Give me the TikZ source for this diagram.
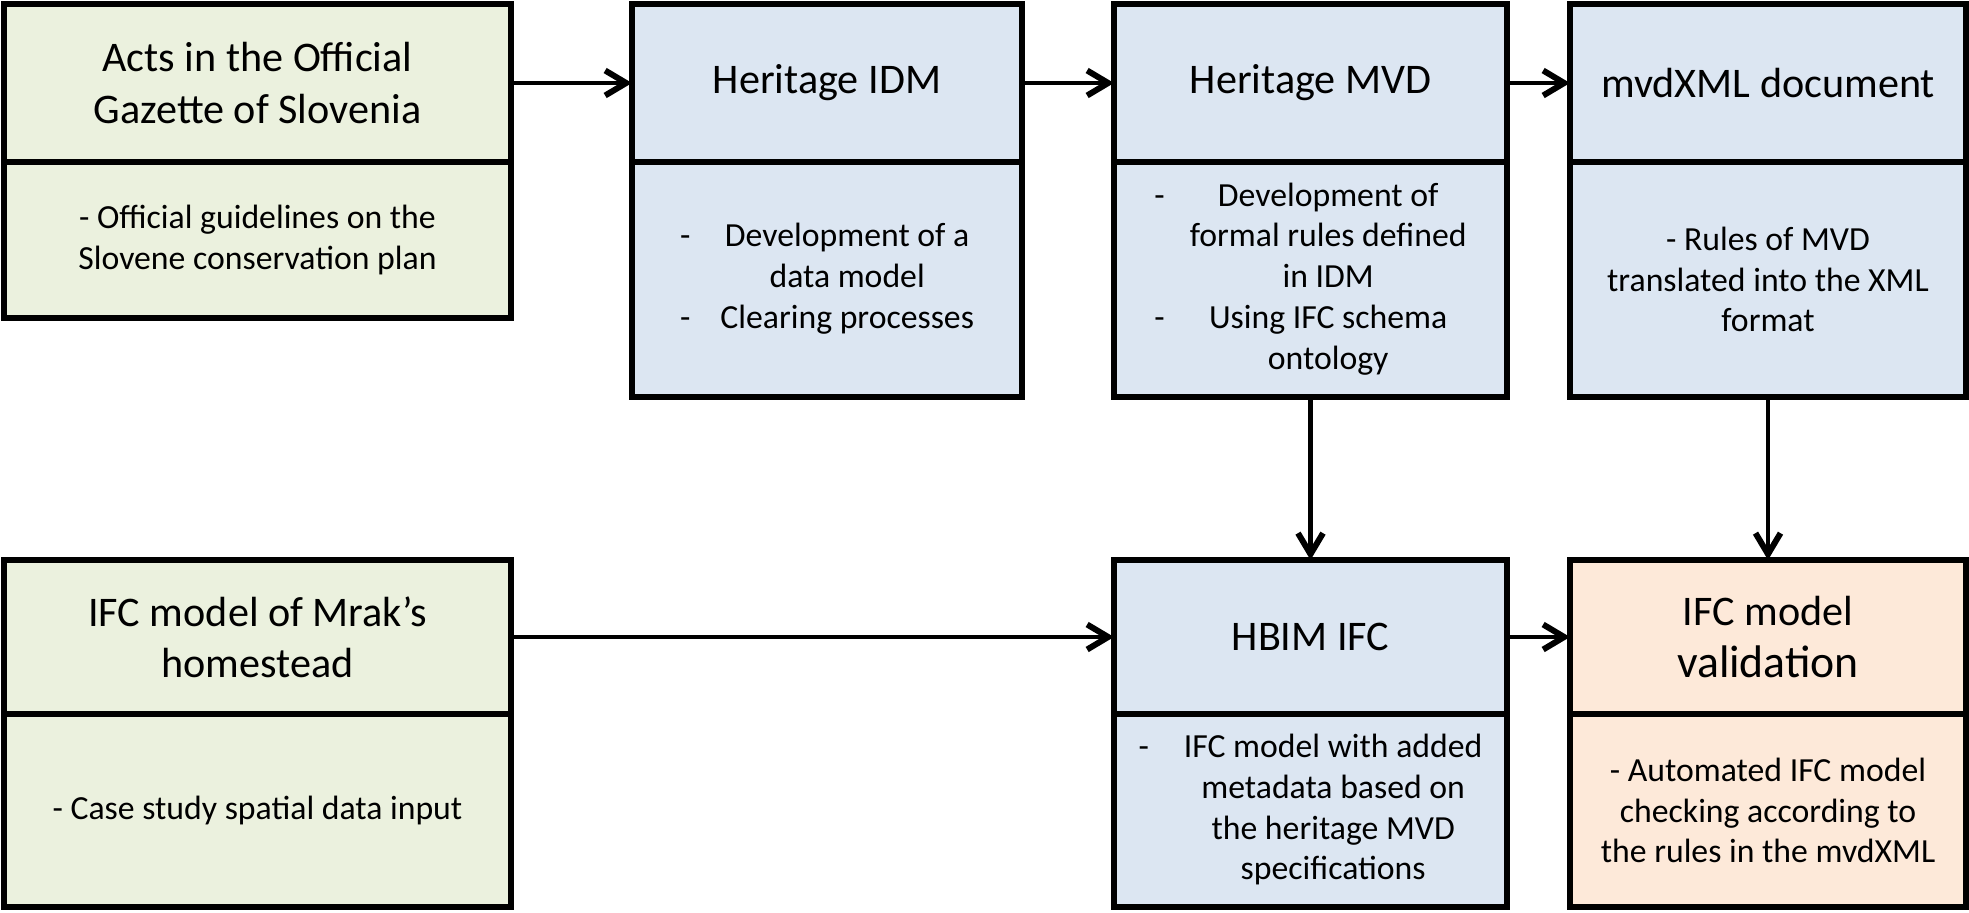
\documentclass[tikz,border=0pt]{standalone}
\usepackage{fontspec}
\setmainfont{Carlito}
\usetikzlibrary{positioning,arrows.meta}
\definecolor{boxgreen}{RGB}{235,241,222}
\definecolor{boxblue}{RGB}{220,230,242}
\definecolor{boxorange}{RGB}{253,233,217}

\begin{document}
\begin{tikzpicture}[
	boxhead/.style={draw, line width=1.5pt, outer sep=0pt, inner sep=2pt, align=center,
		font=\fontsize{12}{14.6}\selectfont},
	boxbody/.style={draw, line width=1.5pt, outer sep=0pt, inner sep=2pt, align=center,
		font=\fontsize{9.6}{11.6}\selectfont},
	flow/.style={line width=1.15pt,
		-{Straight Barb[length=2.1mm,width=2.5mm,line width'=1.7pt]}},
]
\useasboundingbox (0,0) rectangle (19.69,-9.12);

%Acts in the Official Gazette
\node [boxhead, fill=boxgreen,
	minimum width=5.07cm,
	minimum height=1.58cm,
]  (acts)at (2.575,-0.83) {Acts in the Official\\Gazette of Slovenia};
\node [boxbody, fill=boxgreen,
	minimum width=5.07cm,
	minimum height=1.56cm,
	below=0pt of acts,
]  (actsbody) {- Official guidelines on the\\Slovene conservation plan};

%Heritage IDM
\node [boxhead, fill=boxblue,
	minimum width=3.9cm,
	minimum height=1.58cm,
]  (idm)at (8.27,-0.83) {Heritage IDM};
\node [boxbody, fill=boxblue,
	minimum width=3.9cm,
	minimum height=2.35cm,
	below=0pt of idm,
]  (idmbody) {\begin{tabular}{@{}r@{\hspace{0.3cm}}c@{}}
	-&Development of a\\&data model\\-&Clearing processes\end{tabular}};

%Heritage MVD
\node [boxhead, fill=boxblue,
	minimum width=3.93cm,
	minimum height=1.58cm,
]  (mvd)at (13.105,-0.83) {Heritage MVD};
\node [boxbody, fill=boxblue,
	minimum width=3.93cm,
	minimum height=2.35cm,
	below=0pt of mvd,
]  (mvdbody) {\begin{tabular}{@{}r@{\hspace{0.25cm}}c@{}}
	-&Development of\\&formal rules defined\\&in IDM\\-&Using IFC schema\\&ontology\end{tabular}};

%mvdXML document
\node [boxhead, fill=boxblue,
	minimum width=3.96cm,
	minimum height=1.58cm,
]  (xml)at (17.68,-0.83) {mvdXML document};
\node [boxbody, fill=boxblue,
	minimum width=3.96cm,
	minimum height=2.35cm,
	below=0pt of xml,
]  (xmlbody) {- Rules of MVD\\translated into the XML\\format};

%IFC model of Mrak's homestead
\node [boxhead, fill=boxgreen,
	minimum width=5.07cm,
	minimum height=1.54cm,
]  (mrak)at (2.575,-6.37) {IFC model of Mrak’s\\homestead};
\node [boxbody, fill=boxgreen,
	minimum width=5.07cm,
	minimum height=1.93cm,
	below=0pt of mrak,
]  (mrakbody) {- Case study spatial data input};

%HBIM IFC
\node [boxhead, fill=boxblue,
	minimum width=3.93cm,
	minimum height=1.54cm,
]  (hbim)at (13.105,-6.37) {HBIM IFC};
\node [boxbody, fill=boxblue,
	minimum width=3.93cm,
	minimum height=1.93cm,
	below=0pt of hbim,
]  (hbimbody) {\begin{tabular}{@{}r@{\hspace{0.35cm}}c@{}}
	-&IFC model with added\\&metadata based on\\&the heritage MVD\\&specifications\end{tabular}};

%IFC model validation
\node [boxhead, fill=boxorange,
	minimum width=3.96cm,
	minimum height=1.54cm,
]  (valid)at (17.68,-6.37) {IFC model\\{\fontsize{13}{15}\selectfont validation}};
\node [boxbody, fill=boxorange,
	minimum width=3.96cm,
	minimum height=1.93cm,
	below=0pt of valid,
]  (validbody) {- Automated IFC model\\checking according to\\the rules in the mvdXML};

%Connections
\draw[flow] (acts.east) -- (idm.west);
\draw[flow] (idm.east) -- (mvd.west);
\draw[flow] (mvd.east) -- (xml.west);
\draw[flow] (mvdbody.south) -- (hbim.north);
\draw[flow] (xmlbody.south) -- (valid.north);
\draw[flow] (mrak.east) -- (hbim.west);
\draw[flow] (hbim.east) -- (valid.west);

\end{tikzpicture}
\end{document}
